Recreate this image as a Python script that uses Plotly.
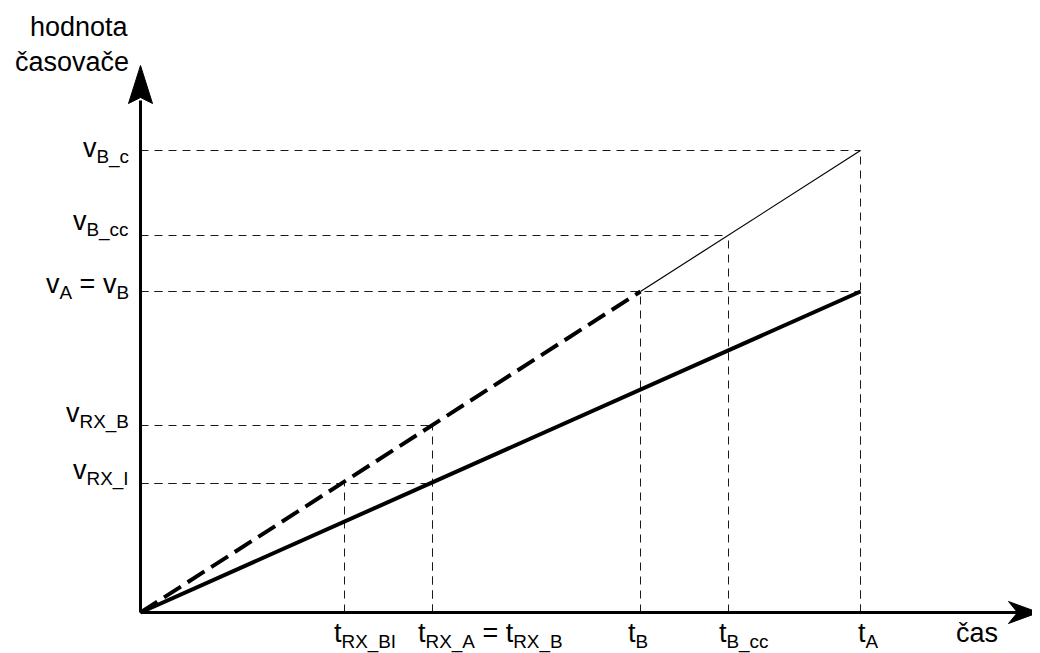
import plotly.graph_objects as go

# ---- data (time / timer value units) ----
t_names = ["t_RX_BI", "t_RX_A", "t_B", "t_B_cc", "t_A"]
t_values = [204, 292, 500, 588, 720]
v_names = ["v_RX_I", "v_RX_B", "v_A", "v_B_cc", "v_B_c"]
v_values = [129, 187, 321, 377, 462]

t_labels = ["t<sub>RX_BI</sub>", "t<sub>RX_A</sub> = t<sub>RX_B</sub>", "t<sub>B</sub>",
            "t<sub>B_cc</sub>", "t<sub>A</sub>"]
v_labels = ["v<sub>RX_I</sub>", "v<sub>RX_B</sub>", "v<sub>A</sub> = v<sub>B</sub>",
            "v<sub>B_cc</sub>", "v<sub>B_c</sub>"]
x_title = "čas"
y_title = ["hodnota", "časovače"]

T = dict(zip(t_names, t_values))
V = dict(zip(v_names, v_values))

# guide pairs: (time, value) points that get dashed projections
points = [("t_RX_BI", "v_RX_I"), ("t_RX_A", "v_RX_B"), ("t_RX_A", "v_RX_I"),
          ("t_B", "v_A"), ("t_B_cc", "v_B_cc"), ("t_A", "v_A"), ("t_A", "v_B_c")]

FONT = "Liberation Sans, Arial, sans-serif"
FS = 27
fig = go.Figure()

# dashed guide lines
guide = dict(color="#1a1a1a", width=1, dash="8px,6px")
for tn, vn in points:
    fig.add_trace(go.Scatter(x=[0, T[tn]], y=[V[vn], V[vn]], mode="lines",
                             line=guide, hoverinfo="skip", showlegend=False))
    fig.add_trace(go.Scatter(x=[T[tn], T[tn]], y=[0, V[vn]], mode="lines",
                             line=guide, hoverinfo="skip", showlegend=False))

# timer A (solid thick)
fig.add_trace(go.Scatter(x=[0, T["t_A"]], y=[0, V["v_A"]], mode="lines",
                         line=dict(color="black", width=4), showlegend=False))
# timer B (dashed thick) up to t_B
fig.add_trace(go.Scatter(x=[0, T["t_B"]], y=[0, V["v_A"]], mode="lines",
                         line=dict(color="black", width=4, dash="20px,8px"), showlegend=False))
# timer B continuation (thin)
fig.add_trace(go.Scatter(x=[T["t_B"], T["t_A"]], y=[V["v_A"], V["v_B_c"]], mode="lines",
                         line=dict(color="black", width=1.2), showlegend=False))

# axes with arrowheads
shapes = [
    dict(type="line", x0=0, y0=0, x1=880, y1=0, line=dict(color="black", width=3)),
    dict(type="line", x0=0, y0=0, x1=0, y1=512, line=dict(color="black", width=3)),
    dict(type="path", path="M 898 0 L 868 11 L 877 0 L 868 -11 Z",
         fillcolor="black", line=dict(color="black", width=1)),
    dict(type="path", path="M 0 547 L -12 509 L 0 515 L 12 509 Z",
         fillcolor="black", line=dict(color="black", width=1)),
]

txt = dict(family=FONT, size=FS, color="black")
ann = []
v_yshift = [-1, 0, 4, -2, 10]
for lab, val, ys in zip(v_labels, v_values, v_yshift):
    ann.append(dict(x=0, y=val, text=lab, xanchor="right", yanchor="bottom",
                    xshift=-10, yshift=-ys - 9, showarrow=False, font=txt))
t_xshift = [-11, -15, -13, -10, -3]
for lab, val, xs in zip(t_labels, t_values, t_xshift):
    ann.append(dict(x=val, y=0, text=lab, xanchor="left", yanchor="top",
                    xshift=xs - 2, yshift=-3.5, showarrow=False, font=txt))
ann.append(dict(x=813, y=0, text=x_title, xanchor="left", yanchor="top",
                yshift=-3, showarrow=False, font=txt))
ann.append(dict(x=0, y=579, text=y_title[0], xanchor="right", yanchor="bottom",
                xshift=-10, yshift=-11, showarrow=False, font=txt))
ann.append(dict(x=0, y=545, text=y_title[1], xanchor="right", yanchor="bottom",
                xshift=-10, yshift=-11, showarrow=False, font=txt))

# page body has an 8px margin; ranges chosen so the origin lands where the reference has it
fig.update_layout(
    width=1040, height=653, autosize=False,
    margin=dict(l=0, r=0, t=0, b=0),
    paper_bgcolor="white", plot_bgcolor="white",
    xaxis=dict(range=[-132.5, 907.5], visible=False, fixedrange=True),
    yaxis=dict(range=[-48.5, 604.5], visible=False, fixedrange=True),
    shapes=shapes, annotations=ann,
)
fig.write_html("out.html")
